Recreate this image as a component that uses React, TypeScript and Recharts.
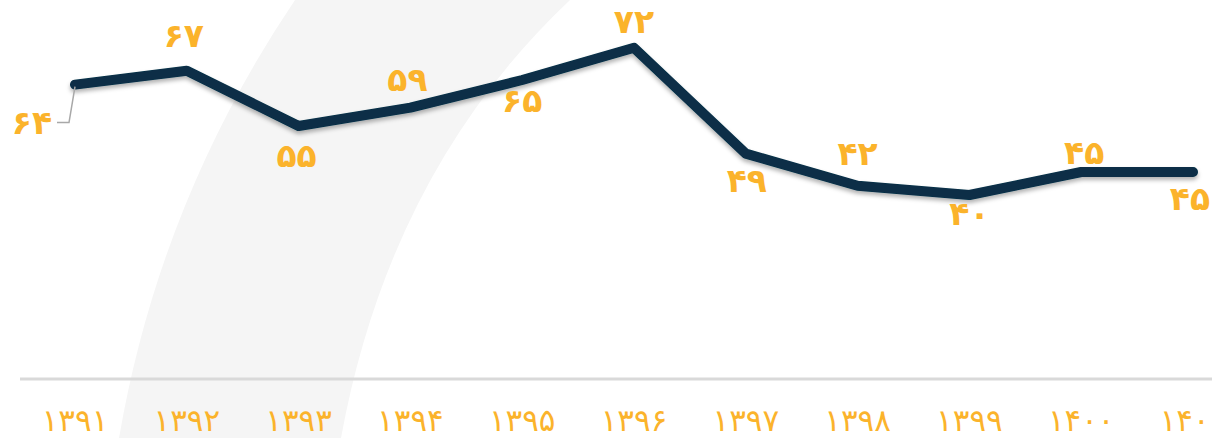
import React from 'react';
import { LineChart, Line, XAxis, YAxis } from 'recharts';

const years = ['۱۳۹۱', '۱۳۹۲', '۱۳۹۳', '۱۳۹۴', '۱۳۹۵', '۱۳۹۶', '۱۳۹۷', '۱۳۹۸', '۱۳۹۹', '۱۴۰۰', '۱۴۰۱'];
const values = [64, 67, 55, 59, 65, 72, 49, 42, 40, 45, 45];
const valueLabels = ['۶۴', '۶۷', '۵۵', '۵۹', '۶۵', '۷۲', '۴۹', '۴۲', '۴۰', '۴۵', '۴۵'];

// where each value label sits relative to its point
const labelOffsets = [
  { dx: -43, dy: 38 },
  { dx: -3, dy: -35 },
  { dx: -2, dy: 29 },
  { dx: -3, dy: -28 },
  { dx: 0, dy: 20 },
  { dx: 0, dy: -26 },
  { dx: 1, dy: 27 },
  { dx: 0, dy: -32 },
  { dx: 0, dy: 18 },
  { dx: 3, dy: -20 },
  { dx: -3, dy: 26 },
];

const data = years.map((year, i) => ({ year, value: values[i], label: valueLabels[i] }));

const ORANGE = '#fbb32b';
const NAVY = '#072f46';
const FONT = '"DejaVu Sans", sans-serif';

const ValueLabel = (props: any) => {
  const { x, y, index } = props;
  const off = labelOffsets[index];
  const lx = x + off.dx;
  const ly = y + off.dy;
  return (
    <g>
      {index === 0 && (
        <polyline
          points={`${x},${y + 2} ${x - 6},${ly} ${x - 18},${ly}`}
          fill="none"
          stroke="#a8a8a8"
          strokeWidth={1.5}
        />
      )}
      <text
        x={lx}
        y={ly}
        textAnchor="middle"
        dominantBaseline="central"
        fill={ORANGE}
        fontFamily={FONT}
        fontWeight="bold"
        fontSize={33}
      >
        {valueLabels[index]}
      </text>
    </g>
  );
};

const YearTick = (props: any) => {
  const { x, y, payload } = props;
  return (
    <text
      x={x}
      y={y + 33}
      textAnchor="middle"
      dominantBaseline="central"
      fill={ORANGE}
      fontFamily={FONT}
      fontSize={31}
    >
      {payload.value}
    </text>
  );
};

export default function App() {
  return (
    <div style={{ position: 'absolute', top: 0, left: 0, width: 1212, height: 438, overflow: 'hidden', background: '#fff' }}>
      <svg width={1212} height={438} style={{ position: 'absolute', top: 0, left: 0 }}>
        <path d="M295,0 Q160,200 119,438 L341,438 Q390,170 570,0 Z" fill="#f5f5f5" />
      </svg>
      <div style={{ position: 'absolute', top: 0, left: 0 }}>
        <LineChart width={1212} height={438} data={data} margin={{ top: 11, right: 0, left: 20, bottom: 0 }}>
          <defs>
            <filter id="lineShadow" x="-5%" y="-20%" width="110%" height="140%">
              <feDropShadow dx="0" dy="3" stdDeviation="2" floodColor="#000" floodOpacity="0.3" />
            </filter>
          </defs>
          <XAxis
            dataKey="year"
            height={59}
            interval={0}
            padding={{ left: 55, right: 19 }}
            tickLine={false}
            axisLine={{ stroke: '#d9d9d9', strokeWidth: 3 }}
            tick={<YearTick />}
          />
          <YAxis hide domain={[0, 80]} />
          <Line
            dataKey="value"
            stroke={NAVY}
            strokeWidth={10}
            strokeLinecap="round"
            strokeLinejoin="round"
            dot={false}
            activeDot={false}
            filter="url(#lineShadow)"
            label={<ValueLabel />}
            isAnimationActive={false}
          />
        </LineChart>
      </div>
    </div>
  );
}
